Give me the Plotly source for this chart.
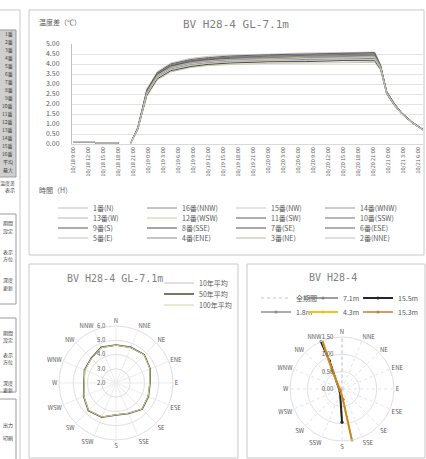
import plotly.graph_objects as go

W, H = 426, 459
def px(x): return x / W
def py(y): return 1 - y / H

# ---------------- data: top line chart ----------------
x_ticklabels = ["10/18 9:00", "10/18 12:00", "10/18 15:00", "10/18 18:00", "10/18 21:00", "10/19 0:00",
                "10/19 3:00", "10/19 6:00", "10/19 9:00", "10/19 12:00", "10/19 15:00", "10/19 18:00",
                "10/19 21:00", "10/20 0:00", "10/20 3:00", "10/20 6:00", "10/20 9:00", "10/20 12:00",
                "10/20 15:00", "10/20 18:00", "10/20 21:00", "10/21 0:00", "10/21 3:00", "10/21 6:00"]
time_idx = [0, 1.4, 1.5, 3.0, 3.4, 3.8, 4.3, 4.9, 5.6, 6.5, 7.8, 9.0, 10.5, 13.0, 15.5, 18.0, 20.1,
            20.5, 20.9, 21.4, 21.9, 22.6, 23.35]
pre = [0.12, 0.12, 0.05, 0.05, None]
s01 = pre + [0.0, 0.78, 2.55, 3.40, 3.80, 4.02, 4.12, 4.20, 4.24, 4.30, 4.31, 4.36, 3.82, 2.58, 1.98, 1.54, 1.08, 0.70]
s16 = pre + [0.0, 0.82, 2.66, 3.54, 3.96, 4.18, 4.28, 4.36, 4.42, 4.46, 4.52, 4.55, 3.92, 2.63, 2.03, 1.57, 1.10, 0.72]
s15 = pre + [0.0, 0.85, 2.75, 3.62, 4.05, 4.28, 4.38, 4.45, 4.49, 4.55, 4.57, 4.60, 3.96, 2.66, 2.05, 1.58, 1.12, 0.73]
s14 = pre + [0.0, 0.80, 2.62, 3.48, 3.90, 4.12, 4.22, 4.30, 4.36, 4.39, 4.45, 4.49, 3.88, 2.61, 2.01, 1.55, 1.09, 0.71]
s13 = pre + [0.0, 0.74, 2.45, 3.28, 3.68, 3.90, 4.00, 4.07, 4.12, 4.15, 4.19, 4.20, 3.75, 2.53, 1.95, 1.51, 1.06, 0.69]
s12 = pre + [0.0, 0.70, 2.38, 3.20, 3.60, 3.82, 3.92, 3.98, 4.03, 4.05, 4.06, 4.08, 3.70, 2.50, 1.93, 1.50, 1.05, 0.68]
s11 = pre + [0.0, 0.76, 2.50, 3.35, 3.75, 3.97, 4.07, 4.14, 4.17, 4.23, 4.25, 4.28, 3.79, 2.56, 1.97, 1.53, 1.07, 0.70]
s10 = pre + [0.0, 0.81, 2.64, 3.50, 3.92, 4.15, 4.25, 4.33, 4.39, 4.42, 4.48, 4.51, 3.90, 2.62, 2.02, 1.56, 1.09, 0.71]
s09 = pre + [0.0, 0.78, 2.56, 3.42, 3.83, 4.05, 4.15, 4.23, 4.28, 4.33, 4.36, 4.40, 3.84, 2.59, 1.99, 1.54, 1.08, 0.70]
s08 = pre + [0.0, 0.73, 2.43, 3.26, 3.66, 3.87, 3.98, 4.05, 4.11, 4.12, 4.17, 4.16, 3.74, 2.52, 1.95, 1.51, 1.06, 0.69]
s07 = pre + [0.0, 0.80, 2.60, 3.47, 3.89, 4.11, 4.21, 4.28, 4.31, 4.37, 4.40, 4.44, 3.87, 2.61, 2.01, 1.55, 1.09, 0.71]
s06 = pre + [0.0, 0.83, 2.70, 3.57, 4.00, 4.22, 4.32, 4.40, 4.46, 4.49, 4.54, 4.57, 3.94, 2.64, 2.04, 1.57, 1.11, 0.72]
s05 = pre + [0.0, 0.77, 2.52, 3.38, 3.78, 4.00, 4.10, 4.17, 4.22, 4.26, 4.28, 4.32, 3.81, 2.57, 1.98, 1.53, 1.08, 0.70]
s04 = pre + [0.0, 0.79, 2.58, 3.44, 3.85, 4.08, 4.18, 4.25, 4.33, 4.35, 4.41, 4.42, 3.86, 2.60, 2.00, 1.55, 1.09, 0.71]
s03 = pre + [0.0, 0.78, 2.57, 3.43, 3.84, 4.06, 4.16, 4.24, 4.27, 4.34, 4.35, 4.38, 3.85, 2.59, 1.99, 1.54, 1.08, 0.70]
s02 = pre + [0.0, 0.75, 2.48, 3.32, 3.72, 3.94, 4.04, 4.11, 4.17, 4.18, 4.23, 4.24, 3.77, 2.55, 1.96, 1.52, 1.07, 0.69]

series_names = ["1番(N)", "16番(NNW)", "15番(NW)", "14番(WNW)",
                "13番(W)", "12番(WSW)", "11番(SW)", "10番(SSW)",
                "9番(S)", "8番(SSE)", "7番(SE)", "6番(ESE)",
                "5番(E)", "4番(ENE)", "3番(NE)", "2番(NNE)"]
series_vals = [s01, s16, s15, s14, s13, s12, s11, s10, s09, s08, s07, s06, s05, s04, s03, s02]
series_colors = ["#bfbfbf", "#8c8c8c", "#c9c9c9", "#9a9a9a",
                 "#b4bcc8", "#c8cc9a", "#5a5a5a", "#6e6e6e",
                 "#595959", "#4a4a4a", "#505050", "#606060",
                 "#c4c4c4", "#8a8a8a", "#bdb39a", "#c0c0c0"]

# ---------------- data: left radar ----------------
directions = ["N", "NNE", "NE", "ENE", "E", "ESE", "SE", "SSE",
              "S", "SSW", "SW", "WSW", "W", "WNW", "NW", "NNW"]
radar_names = ["10年平均", "50年平均", "100年平均"]
radar_a = [4.64, 4.68, 4.78, 4.57, 4.36, 4.43, 4.57, 4.29, 4.22, 4.57, 4.71, 4.43, 4.22, 4.36, 4.43, 4.68]
radar_b = [4.67, 4.71, 4.81, 4.60, 4.39, 4.46, 4.60, 4.32, 4.25, 4.60, 4.74, 4.46, 4.25, 4.39, 4.46, 4.71]
radar_c = [4.65, 4.69, 4.79, 4.58, 4.37, 4.44, 4.58, 4.30, 4.23, 4.58, 4.72, 4.44, 4.23, 4.37, 4.44, 4.69]
radar_colors = ["#c0c0c0", "#4a4a2e", "#d8d0a0"]

# ---------------- data: right radar (trajectories) ----------------
traj_names = ["全期間", "7.1m", "15.5m", "1.8m", "4.3m", "15.3m"]
traj_theta = [[0, 0, 180, 180],
              [336, 336, 214, 180],
              [336, 336, 214, 180],
              [338, 332, 243, 175, 169],
              [338, 332, 243, 175, 169],
              [338, 332, 243, 175, 169]]
traj_r = [[1.45, 0.2, 0.2, 1.0],
          [1.50, 0.88, 0.10, 0.95],
          [1.52, 0.90, 0.10, 0.96],
          [1.53, 0.60, 0.06, 0.30, 1.50],
          [1.55, 0.61, 0.06, 0.31, 1.53],
          [1.54, 0.60, 0.06, 0.30, 1.52]]
traj_colors = ["#b8c8e0", "#7f7f7f", "#262626", "#8c8c8c", "#f0c419", "#c87d2c"]
traj_dash = ["dot", "solid", "solid", "solid", "solid", "solid"]
traj_width = [1, 1.5, 2, 1.5, 2, 1.5]

FONT = "Noto Sans CJK JP"
GRAY = "#595959"

fig = go.Figure()

for i, (nm, vals, col) in enumerate(zip(series_names, series_vals, series_colors)):
    row = i // 4
    fig.add_trace(go.Scatter(x=time_idx, y=vals, mode="lines", name=nm,
                             line=dict(color=col, width=1),
                             legend="legend" if row == 0 else f"legend{row+1}",
                             xaxis="x", yaxis="y"))

for j, (nm, vals, col) in enumerate(zip(radar_names, [radar_a, radar_b, radar_c], radar_colors)):
    fig.add_trace(go.Scatterpolar(r=vals + vals[:1], theta=directions + directions[:1], mode="lines",
                                  name=nm, line=dict(color=col, width=1.5 if j == 1 else 1),
                                  subplot="polar", legend=f"legend{5+j}"))

for k, nm in enumerate(traj_names):
    fig.add_trace(go.Scatterpolar(r=traj_r[k], theta=traj_theta[k], mode="lines" if k == 0 else "lines+markers",
                                  name=nm, line=dict(color=traj_colors[k], width=traj_width[k], dash=traj_dash[k]),
                                  marker=dict(size=3, color=traj_colors[k]),
                                  subplot="polar2", legend=f"legend{8+k}"))

shapes = []
def rect(x0, y0, x1, y1, line="#c8c8c8", fill="rgba(0,0,0,0)", lw=1):
    shapes.append(dict(type="rect", xref="paper", yref="paper", x0=px(x0), x1=px(x1), y0=py(y1), y1=py(y0),
                       line=dict(color=line, width=lw), fillcolor=fill, layer="below"))
rect(29, 10, 424, 255)
rect(29, 264, 238, 458)
rect(247, 264, 425, 458)
rect(-5, 10, 20, 470)
rect(-5, 30, 16, 177, line="#9a9a9a", fill="#cfcfcf")
rect(-5, 214, 16, 304, line="#9a9a9a")
rect(-5, 318, 16, 392, line="#9a9a9a")
rect(-5, 399, 16, 470, line="#9a9a9a")

annotations = []
def txt(x, y, s, size=7, color=GRAY, anchor="left", family=FONT):
    annotations.append(dict(x=px(x), y=py(y), xref="paper", yref="paper", text=s, showarrow=False,
                            xanchor=anchor, yanchor="middle", font=dict(size=size, color=color, family=family)))

side_rows = ["1番", "2番", "3番", "4番", "5番", "6番", "7番", "8番", "9番",
             "10番", "11番", "12番", "13番", "14番", "15番", "16番", "平均", "最大"]
for i, s in enumerate(side_rows):
    txt(15, 34 + i * 8, s, size=5, color="#404040", anchor="right")
txt(17, 183, "温度差", size=5, color="#404040", anchor="right")
txt(17, 190, "表示", size=5, color="#404040", anchor="right")
for (yy, s) in [(223, "期間"), (231, "設定"), (252, "表示"), (259, "方位"), (280, "深度"), (288, "更新")]:
    txt(15, yy, s, size=5, color="#404040", anchor="right")
for (yy, s) in [(333, "期間"), (340, "設定"), (355, "表示"), (362, "方位"), (383, "深度"), (390, "更新")]:
    txt(15, yy, s, size=5, color="#404040", anchor="right")
for (yy, s) in [(425, "出力"), (438, "印刷")]:
    txt(15, yy, s, size=5, color="#404040", anchor="right")

txt(37, 22, "温度差（℃）", size=7)
txt(236, 25, "BV H28-4 GL-7.1m", size=11, color="#7f7f7f", anchor="center", family="DejaVu Sans Mono")
txt(37, 190, "時間（H）", size=7)
txt(115, 278, "BV H28-4 GL-7.1m", size=10, color="#7f7f7f", anchor="center", family="DejaVu Sans Mono")
txt(333, 277, "BV H28-4", size=10, color="#7f7f7f", anchor="center", family="DejaVu Sans Mono")

legend_common = dict(orientation="h", bgcolor="rgba(0,0,0,0)", font=dict(size=7, color=GRAY, family=FONT),
                     entrywidthmode="pixels", itemwidth=30, xanchor="left", yanchor="middle",
                     tracegroupgap=0)
legends = {}
for r in range(4):
    key = "legend" if r == 0 else f"legend{r+1}"
    d = dict(legend_common)
    d.update(x=px(53), y=py(208 + r * 10), entrywidth=44)
    legends[key] = d
for j in range(3):
    d = dict(legend_common)
    d.update(x=px(159), y=py(283 + j * 11), entrywidth=30)
    legends[f"legend{5+j}"] = d
right_leg_x = [256, 303, 358]
for k in range(6):
    d = dict(legend_common)
    d.update(x=px(right_leg_x[k % 3]), y=py(298 + (k // 3) * 14), entrywidth=20)
    legends[f"legend{8+k}"] = d

R1, C1 = 57, (116, 383)
R2, C2 = 52, (342, 389)

fig.update_layout(
    width=W, height=H, margin=dict(l=0, r=0, t=0, b=0, autoexpand=False),
    paper_bgcolor="white", plot_bgcolor="white", showlegend=True,
    font=dict(family=FONT, color=GRAY),
    xaxis=dict(domain=[px(72), px(423)], range=[-0.09, 23.33], tickmode="array",
               tickvals=list(range(24)), ticktext=x_ticklabels, tickangle=-90,
               tickfont=dict(size=5.5, color=GRAY), showgrid=False, zeroline=False,
               showline=True, linecolor="#d9d9d9", ticks=""),
    yaxis=dict(domain=[py(144), py(44)], range=[0, 5], dtick=0.5, tickformat=".2f",
               tickfont=dict(size=7, color=GRAY), gridcolor="#e3e3e3", gridwidth=1,
               zeroline=False, showline=True, linecolor="#bfbfbf", ticks="", ticklabelstandoff=10),
    polar=dict(domain=dict(x=[px(C1[0] - R1), px(C1[0] + R1)], y=[py(C1[1] + R1), py(C1[1] - R1)]),
               bgcolor="white",
               angularaxis=dict(rotation=90, direction="clockwise", categoryarray=directions,
                                type="category", tickfont=dict(size=6, color=GRAY), gridcolor="#ececec",
                                linecolor="#e0e0e0", ticks=""),
               radialaxis=dict(range=[2, 6], dtick=1, tickformat=".1f", angle=90, tickangle=90,
                               side="counterclockwise", tickfont=dict(size=6, color=GRAY),
                               gridcolor="#e0e0e0", linecolor="rgba(0,0,0,0)", ticks="outside",
                               ticklen=8, tickcolor="rgba(0,0,0,0)")),
    polar2=dict(domain=dict(x=[px(C2[0] - R2), px(C2[0] + R2)], y=[py(C2[1] + R2), py(C2[1] - R2)]),
                bgcolor="white",
                angularaxis=dict(rotation=90, direction="clockwise", tickmode="array",
                                 tickvals=[i * 22.5 for i in range(16)], ticktext=directions,
                                 tickfont=dict(size=6, color=GRAY), gridcolor="#dde4ee", griddash="dot",
                                 linecolor="#e0e0e0", ticks=""),
                radialaxis=dict(range=[0, 1.5], dtick=0.5, tickformat=".2f", angle=90, tickangle=90,
                                side="counterclockwise", tickfont=dict(size=6, color=GRAY),
                                gridcolor="#e0e0e0", linecolor="rgba(0,0,0,0)", ticks="outside",
                                ticklen=6, tickcolor="rgba(0,0,0,0)")),
    shapes=shapes, annotations=annotations,
    **legends,
)

fig.write_html("out.html", config={"displayModeBar": False},
               post_script="document.body.style.margin='0';")
